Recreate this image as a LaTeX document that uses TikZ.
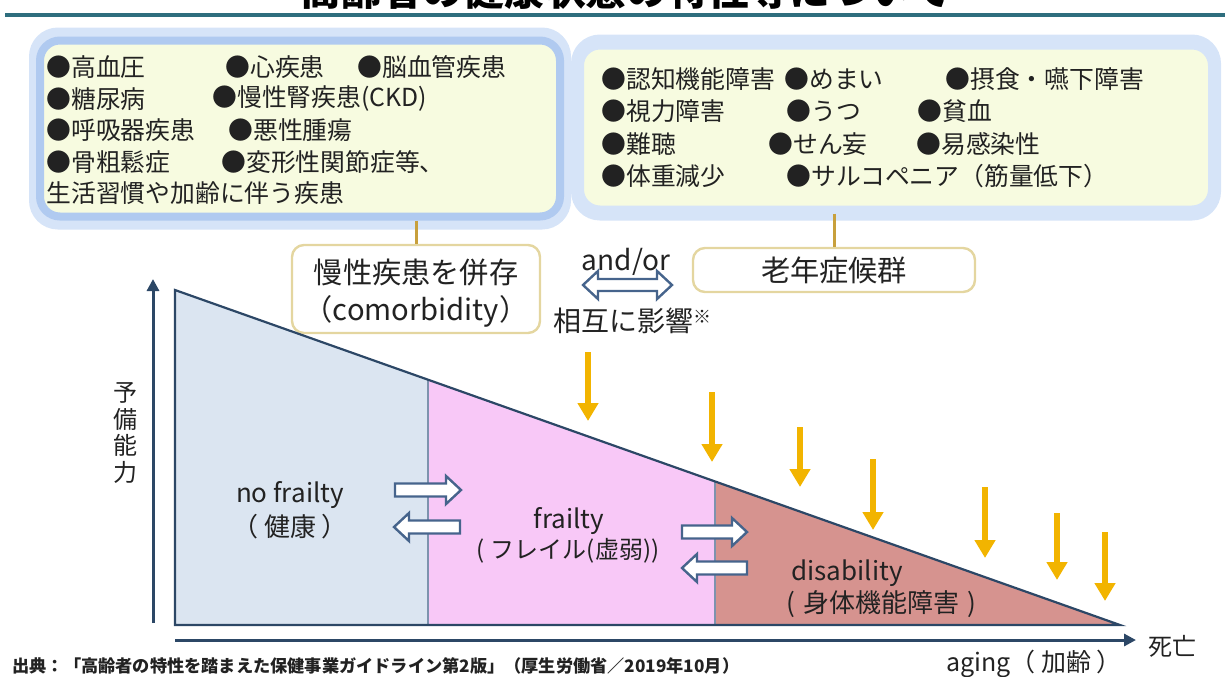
\documentclass[tikz,border=0pt]{standalone}
\usepackage{fontspec}
\setmainfont{Noto Sans CJK JP}
\usetikzlibrary{arrows.meta,calc}
\definecolor{navy}{RGB}{44,71,102}
\definecolor{txt}{RGB}{34,34,34}
\definecolor{glowA}{RGB}{176,202,240}
\definecolor{glowB}{RGB}{214,228,248}
\definecolor{cream}{RGB}{247,251,224}
\definecolor{tan}{RGB}{228,214,160}
\definecolor{goldc}{RGB}{200,160,60}
\definecolor{yel}{RGB}{242,180,0}
\definecolor{blueg}{RGB}{219,229,241}
\definecolor{pinkc}{RGB}{248,200,247}
\definecolor{rosec}{RGB}{214,147,143}
\definecolor{slate}{RGB}{70,100,140}
\definecolor{teal}{RGB}{46,110,126}
\newcommand{\hArrow}[4]{%
  \draw[hollow] ({#1},{#3-6.5}) -- ({#2-(#4)*15},{#3-6.5}) -- ({#2-(#4)*15},{#3-14}) -- ({#2},{#3}) -- ({#2-(#4)*15},{#3+14}) -- ({#2-(#4)*15},{#3+6.5}) -- ({#1},{#3+6.5}) -- cycle;}
\begin{document}
\begin{tikzpicture}[x=0.5pt,y=-0.5pt,
  bigbox/.style={draw=glowA, line width=4pt, fill=cream, rounded corners=10pt, inner sep=0pt},
  halo/.style={draw=glowB, line width=5pt, rounded corners=12pt, inner sep=0pt},
  item/.style={anchor=west, inner sep=0pt, text=txt, font=\fontsize{12.4pt}{14pt}\selectfont},
  midbox/.style={draw=tan, line width=1.2pt, fill=white, rounded corners=6pt, inner sep=0pt},
  midtext/.style={inner sep=0pt, text=txt, font=\fontsize{14.6pt}{16pt}\selectfont},
  lbl/.style={inner sep=0pt, text=txt, font=\fontsize{13pt}{15pt}\selectfont},
  link/.style={draw=goldc, line width=1.5pt},
  down/.style={draw=yel, line width=3pt, -{Triangle[width=10pt,length=9pt]}},
  hollow/.style={draw=slate, line width=1.2pt, fill=white, line join=miter},
  axis/.style={draw=navy, line width=1.5pt, -{Triangle[width=6pt,length=6pt]}}
]
\useasboundingbox (0,0) rectangle (1225,676);
% title band
\node[inner sep=0pt, text=black, font=\bfseries\fontsize{20.4pt}{22pt}\selectfont] (title) at (626,-10) {高齢者の健康状態の特性等について};
\coordinate (bandL) at (5,15);
\coordinate (bandR) at (1225,15);
\draw[teal, line width=1.6pt] (bandL) -- (bandR);

% left big box
\node[halo, minimum width=266pt, minimum height=96pt] (lhalo) at (300,128.5) {};
\node[bigbox, minimum width=260pt, minimum height=88pt] (lbox) at (300,128.5) {};
\node[item] (l11) at (46,67) {●高血圧};
\node[item] (l12) at (225,67) {●心疾患};
\node[item] (l13) at (357,67) {●脳血管疾患};
\node[item] (l21) at (46,99) {●糖尿病};
\node[item] (l22) at (212,99) {●慢性腎疾患(CKD)};
\node[item] (l31) at (46,130) {●呼吸器疾患};
\node[item] (l32) at (228,130) {●悪性腫瘍};
\node[item] (l41) at (46,162) {●骨粗鬆症};
\node[item] (l42) at (221,162) {●変形性関節症等、};
\node[item] (l51) at (46,193) {生活習慣や加齢に伴う疾患};

% right big box
\node[halo, minimum width=320pt, minimum height=88pt] (rhalo) at (896,127.5) {};
\node[bigbox, draw=glowB, minimum width=316pt, minimum height=82pt] (rbox) at (896,127.5) {};
\node[item] (r11) at (601,79) {●認知機能障害};
\node[item] (r12) at (784,79) {●めまい};
\node[item] (r13) at (945,79) {●摂食・嚥下障害};
\node[item] (r21) at (601,111) {●視力障害};
\node[item] (r22) at (786,111) {●うつ};
\node[item] (r23) at (917,111) {●貧血};
\node[item] (r31) at (601,144) {●難聴};
\node[item] (r32) at (768,144) {●せん妄};
\node[item] (r33) at (916,144) {●易感染性};
\node[item] (r41) at (601,176) {●体重減少};
\node[item] (r42) at (786,176) {●サルコペニア（筋量低下）};

% middle boxes
\node[midbox, minimum width=124pt, minimum height=44pt] (comorb) at (416,289) {};
\node[midtext] (comorbA) at (416,272) {慢性疾患を併存};
\node[midtext] (comorbB) at (416,311) {（comorbidity）};
\node[midbox, minimum width=141pt, minimum height=22pt] (ronen) at (834,270) {};
\node[midtext] (ronenT) at (834,270) {老年症候群};
\draw[link] (comorb.north |- lbox.south) -- (comorb.north);
\draw[link] (ronen.north |- rbox.south) -- (ronen.north);

\node[midtext, font=\fontsize{14pt}{16pt}\selectfont] (andor) at (626,262) {and/or};
\node[midtext, font=\fontsize{14pt}{16pt}\selectfont] (sogo) at (632,321) {相互に影響\raisebox{4pt}{\fontsize{9pt}{10pt}\selectfont ※}};
\coordinate (dL) at (583,285);
\coordinate (dR) at (672,285);
\draw[hollow] (dL) -- ++(15,-14) -- ++(0,8) -- ($(dR)+(-15,-6)$) -- ++(0,-8) -- (dR) -- ++(-15,14) -- ++(0,-8) -- ($(dL)+(15,6)$) -- ++(0,8) -- cycle;

% triangle
\coordinate (A) at (175,290);
\coordinate (B) at (175,625);
\coordinate (C) at (1120,625);
\coordinate (P) at ($(A)!0.26772!(C)$);
\coordinate (Q) at ($(A)!0.57143!(C)$);
\coordinate (P0) at (428,625);
\coordinate (Q0) at (715,625);
\fill[blueg] (A) -- (P) -- (P0) -- (B) -- cycle;
\fill[pinkc] (P) -- (Q) -- (Q0) -- (P0) -- cycle;
\fill[rosec] (Q) -- (C) -- (Q0) -- cycle;
\draw[slate!70, line width=0.8pt] (P) -- (P0) (Q) -- (Q0);
\draw[navy, line width=1.1pt, line join=miter] (A) -- (C) -- (B) -- cycle;

% axes
\coordinate (vy0) at (153,623);
\coordinate (vy1) at (153,279);
\coordinate (hx0) at (175,640);
\coordinate (hx1) at (1136,640);
\draw[axis] (vy0) -- (vy1);
\draw[axis] (hx0) -- (hx1);

% yellow arrows
\foreach \n/\x/\a/\b in {1/588/352/421, 2/712/392/462, 3/800/427/487, 4/873/459/530, 5/985/487/558, 6/1057/513/580, 7/1105/532/601}{
  \coordinate (ya\n) at (\x,\a);
  \coordinate (yb\n) at (\x,\b);
  \draw[down] (ya\n) -- (yb\n);
}

% hollow state arrows
\hArrow{395}{461}{490}{1}
\hArrow{460}{394}{527}{-1}
\hArrow{682}{747}{532}{1}
\hArrow{747}{682}{568}{-1}

% labels
\node[lbl, align=center, font=\fontsize{12pt}{13.35pt}\selectfont] (yobi) at (125,433) {予\\備\\能\\力};
\node[lbl, font=\fontsize{12pt}{14pt}\selectfont] (shibo) at (1172,646) {死亡};
\node[lbl, font=\fontsize{12.5pt}{14pt}\selectfont] (aging) at (1034,664) {aging（ 加齢 ）};
\node[lbl] (nf1) at (290,495) {no frailty};
\node[lbl] (nf2) at (290,527) {（ 健康 ）};
\node[lbl] (fr1) at (569,521) {frailty};
\node[lbl, font=\fontsize{12pt}{14pt}\selectfont] (fr2) at (568,551) {(\hspace{3pt}フレイル(虚弱))};
\node[lbl, anchor=west] (di1) at (791,573) {disability};
\node[lbl, anchor=west] (di2) at (786,604) {(\hspace{4pt}身体機能障害\hspace{4pt})};
\node[inner sep=0pt, anchor=west, text=txt, font=\bfseries\fontsize{8.6pt}{10pt}\selectfont] (src) at (12,666) {出典：「高齢者の特性を踏まえた保健事業ガイドライン第2版」（厚生労働省／2019年10月）};
\end{tikzpicture}
\end{document}
